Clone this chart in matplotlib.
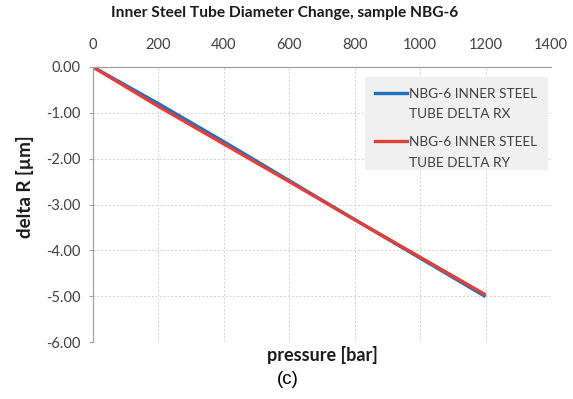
import matplotlib
matplotlib.use("Agg")
import matplotlib.pyplot as plt
from matplotlib.patches import Rectangle
from matplotlib.lines import Line2D

pressure = [0, 200, 400, 600, 800, 1000, 1200]
delta_rx = [0.0, -0.80, -1.63, -2.48, -3.33, -4.17, -5.01]
delta_ry = [0.0, -0.86, -1.68, -2.50, -3.33, -4.15, -4.97]
x_ticks = [0, 200, 400, 600, 800, 1000, 1200, 1400]
y_ticks = [0, -1, -2, -3, -4, -5, -6]
series_labels = [('NBG-6 INNER STEEL', 'TUBE DELTA RX'), ('NBG-6 INNER STEEL', 'TUBE DELTA RY')]
series_colors = ['#1f6fbf', '#e0403a']

plt.rcParams['font.family'] = ['Lato', 'DejaVu Sans']

W, H = 573, 399
fig = plt.figure(figsize=(W / 100, H / 100), dpi=100)
ax = fig.add_axes([93 / W, 1 - 342 / H, 458 / W, 275 / H])

for ys, c in zip([delta_rx, delta_ry], series_colors):
    ax.plot(pressure, ys, color=c, lw=2.4, solid_capstyle='butt')

ax.set_xlim(0, 1400)
ax.set_ylim(-6, 0)
ax.set_xticks(x_ticks)
ax.set_yticks(y_ticks)
ax.set_yticklabels([f"{v:.2f}" for v in y_ticks])
ax.xaxis.tick_top()
ax.tick_params(axis='x', length=0, pad=11, labelsize=10.5, colors='#404040')
ax.tick_params(axis='y', length=3, direction='out', color='#a0a0a0', pad=6, labelsize=10.5, labelcolor='#404040')

ax.grid(True, color='#d0d0d0', ls=(0, (2, 2)), lw=0.7)
for s in ['right', 'bottom']:
    ax.spines[s].set_visible(False)
for s in ['left', 'top']:
    ax.spines[s].set_color('#a0a0a0')
    ax.spines[s].set_linewidth(0.9)


def fx(px):
    return px / W


def fy(py):
    return 1 - py / H


fig.text(fx(25), fy(187), 'delta R [µm]', rotation=90, ha='center', va='center',
         fontsize=13.5, fontweight='bold', color='#1a1a1a')
fig.text(fx(322), fy(355), 'pressure [bar]', ha='center', va='center', fontsize=13,
         fontweight='bold', color='#1a1a1a')
fig.text(fx(288), fy(380), '(c)', ha='center', va='center', fontsize=13.5,
         family=['Liberation Sans', 'DejaVu Sans'])
fig.text(fx(285), fy(13), 'Inner Steel Tube Diameter Change, sample NBG-6', ha='center', va='center',
         fontsize=11.2, fontweight='bold', color='#1a1a1a')

# legend box with keys aligned to the first text line of each entry
fig.add_artist(Rectangle((fx(365), fy(170)), 183 / W, 93 / H, transform=fig.transFigure,
                         facecolor='#f0f0f0', edgecolor='none', zorder=5))
key_rows = [93, 141]
for (l1, l2), c, yk in zip(series_labels, series_colors, key_rows):
    fig.add_artist(Line2D([fx(375), fx(407)], [fy(yk), fy(yk)], transform=fig.transFigure,
                          color=c, lw=2.4, zorder=6))
    fig.text(fx(409), fy(yk + 4.5), l1, ha='left', va='baseline', fontsize=9.8,
             color='#404040', zorder=6)
    fig.text(fx(409), fy(yk + 25.5), l2, ha='left', va='baseline', fontsize=9.8,
             color='#404040', zorder=6)

fig.savefig('out.png', dpi=100)
